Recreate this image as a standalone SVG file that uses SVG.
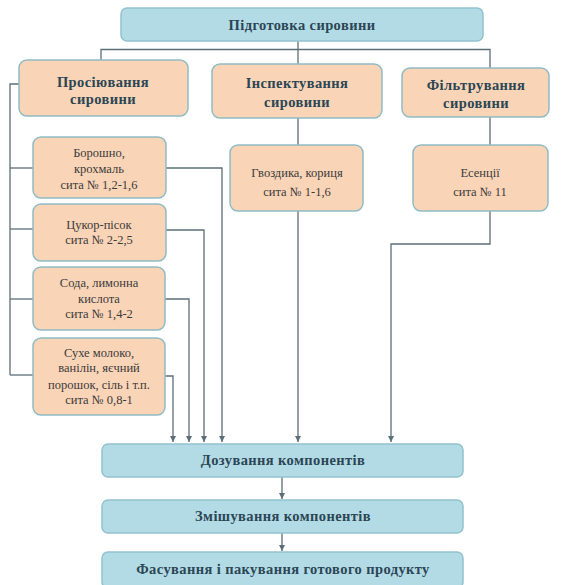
<svg xmlns="http://www.w3.org/2000/svg" width="565" height="585" viewBox="0 0 565 585">
<defs>
<style>
.blue{fill:#b3dbe6;stroke:#92c2cf;stroke-width:1.5}
.peach{fill:#f9d4b7;stroke:#8fbcc4;stroke-width:1.5}
text{font-family:"Times New Roman","Liberation Serif","DejaVu Serif",serif}
.h{font-weight:bold;font-size:14.5px;fill:#2b4654;text-anchor:middle;letter-spacing:0.4px}
.t{font-size:12.5px;fill:#3b3b3b;text-anchor:middle}
.c{fill:none;stroke:#5c6f78;stroke-width:1.3}
</style>
<marker id="ah" markerWidth="8" markerHeight="8" refX="6" refY="3" orient="auto" markerUnits="userSpaceOnUse">
<path d="M0,0 L6,3 L0,6 z" fill="#5c6f78"/>
</marker>
</defs>
<rect width="565" height="585" fill="#ffffff"/>
<g id="connectors">
<path class="c" d="M298,41 V64"/>
<path class="c" d="M101,60 V49.5 H490 V68"/>
<path class="c" d="M19,84 H10 V375"/>
<path class="c" d="M10,168 H33"/>
<path class="c" d="M10,229 H33"/>
<path class="c" d="M10,299 H33"/>
<path class="c" d="M10,375 H33"/>
<path class="c" d="M298,118 V145"/>
<path class="c" d="M490,117 V145"/>
<path class="c" d="M166,168 H222 V442" marker-end="url(#ah)"/>
<path class="c" d="M166,230 H204 V442" marker-end="url(#ah)"/>
<path class="c" d="M165,299 H189 V442" marker-end="url(#ah)"/>
<path class="c" d="M165,376 H173 V442" marker-end="url(#ah)"/>
<path class="c" d="M298,211 V442" marker-end="url(#ah)"/>
<path class="c" d="M490,211 V244 H391 V442" marker-end="url(#ah)"/>
<path class="c" d="M282,477 V499" marker-end="url(#ah)"/>
<path class="c" d="M282,533 V551" marker-end="url(#ah)"/>
</g>
<g id="n-top"><rect class="blue" x="121" y="8" width="362" height="33" rx="6"/><text class="h" x="302" y="30">Підготовка сировини</text></g>
<g id="n-prosi"><rect class="peach" x="19" y="60" width="169" height="56" rx="8"/><text class="h" x="103" y="87">Просіювання</text><text class="h" x="103" y="104">сировини</text></g>
<g id="n-inspekt"><rect class="peach" x="212" y="64" width="170" height="54" rx="8"/><text class="h" x="297" y="88">Інспектування</text><text class="h" x="297" y="107">сировини</text></g>
<g id="n-filt"><rect class="peach" x="402" y="68" width="147" height="49" rx="8"/><text class="h" x="476" y="90">Фільтрування</text><text class="h" x="476" y="108">сировини</text></g>
<g id="n-borosh"><rect class="peach" x="33" y="137" width="133" height="61" rx="8"/><text class="t" x="99" y="157">Борошно,</text><text class="t" x="99" y="173">крохмаль</text><text class="t" x="99" y="189">сита № 1,2-1,6</text></g>
<g id="n-cukor"><rect class="peach" x="33" y="204" width="133" height="57" rx="8"/><text class="t" x="99" y="229">Цукор-пісок</text><text class="t" x="99" y="244">сита № 2-2,5</text></g>
<g id="n-soda"><rect class="peach" x="33" y="267" width="132" height="63" rx="8"/><text class="t" x="99" y="287">Сода, лимонна</text><text class="t" x="99" y="303">кислота</text><text class="t" x="99" y="318">сита № 1,4-2</text></g>
<g id="n-suhe"><rect class="peach" x="33" y="338" width="132" height="77" rx="8"/><text class="t" x="99" y="357">Сухе молоко,</text><text class="t" x="99" y="372">ванілін, яєчний</text><text class="t" x="99" y="389">порошок, сіль і т.п.</text><text class="t" x="99" y="404">сита № 0,8-1</text></g>
<g id="n-hvozd"><rect class="peach" x="230" y="145" width="133" height="66" rx="8"/><text class="t" x="297" y="177">Гвоздика, кориця</text><text class="t" x="297" y="196">сита № 1-1,6</text></g>
<g id="n-esenc"><rect class="peach" x="413" y="145" width="135" height="66" rx="8"/><text class="t" x="480" y="177">Есенції</text><text class="t" x="480" y="196">сита № 11</text></g>
<g id="n-dozuv"><rect class="blue" x="102" y="444" width="361" height="33" rx="6"/><text class="h" x="283" y="465">Дозування компонентів</text></g>
<g id="n-zmish"><rect class="blue" x="102" y="500" width="361" height="33" rx="6"/><text class="h" x="283" y="521">Змішування компонентів</text></g>
<g id="n-fasuv"><rect class="blue" x="102" y="552" width="361" height="36" rx="6"/><text class="h" x="283" y="574">Фасування і пакування готового продукту</text></g>
</svg>
